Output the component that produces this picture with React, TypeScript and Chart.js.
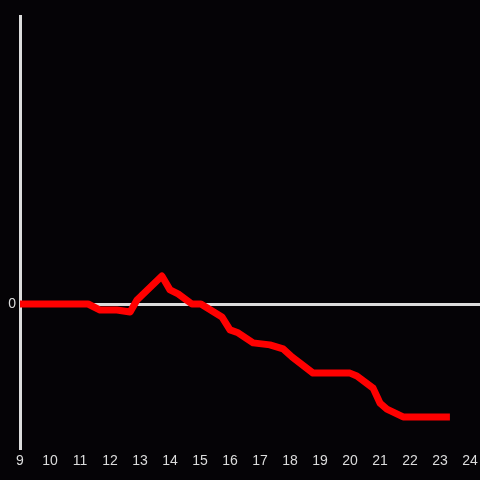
import React, { useEffect, useRef } from "react";
import { Chart, registerables } from "chart.js";

Chart.register(...registerables);

const hours = [9, 11.27, 11.67, 12.23, 12.67, 12.9, 13.73, 14.0, 14.27, 14.73, 15.03, 15.73, 16.0, 16.27, 16.77, 17.33, 17.77, 18.07, 18.77, 20.0, 20.23, 20.77, 21.0, 21.23, 21.77, 23.33];
const values = [0, 0, -0.21, -0.21, -0.28, 0.14, 0.97, 0.49, 0.35, 0, 0, -0.45, -0.9, -1.0, -1.35, -1.42, -1.56, -1.84, -2.4, -2.4, -2.5, -2.92, -3.44, -3.65, -3.92, -3.92];
const xTickLabels = [9, 10, 11, 12, 13, 14, 15, 16, 17, 18, 19, 20, 21, 22, 23, 24];
const yTickLabels = [0];

const BG = "#050306";
const FG = "#dcdcdc";

export default function App() {
  const ref = useRef<HTMLCanvasElement>(null);
  useEffect(() => {
    const canvas = ref.current!;
    const chart = new Chart(canvas, {
      type: "line",
      data: {
        datasets: [
          {
            data: hours.map((h, i) => ({ x: h, y: values[i] })),
            borderColor: "#ff0000",
            borderWidth: 7,
            pointRadius: 0,
            tension: 0,
            borderJoinStyle: "round",
            borderCapStyle: "butt",
          },
        ],
      },
      options: {
        responsive: false,
        animation: false,
        layout: { padding: { top: 16, left: 0, right: 0, bottom: 0 } },
        plugins: { legend: { display: false }, tooltip: { enabled: false } },
        scales: {
          x: {
            type: "linear",
            min: 9,
            max: 24 + 1 / 3,
            grid: { display: false, drawTicks: false },
            border: { display: false },
            afterBuildTicks: (s: any) => {
              s.ticks = xTickLabels.map((v) => ({ value: v }));
            },
            afterFit: (s: any) => {
              s.height = 32;
              s.paddingLeft = 0;
              s.paddingRight = 0;
            },
            ticks: {
              color: FG,
              padding: 5,
              maxRotation: 0,
              autoSkip: false,
              font: { family: "Liberation Sans", size: 14 },
              callback: (v: any) => String(v),
            },
          },
          y: {
            min: -5,
            max: 10,
            grid: {
              drawTicks: false,
              color: (c: any) => (c.tick && c.tick.value === 0 ? FG : "transparent"),
              lineWidth: 3,
            },
            border: { display: true, color: FG, width: 3 },
            afterBuildTicks: (s: any) => {
              s.ticks = yTickLabels.map((v) => ({ value: v }));
            },
            afterFit: (s: any) => {
              s.width = 20;
              s.paddingTop = 0;
              s.paddingBottom = 0;
            },
            ticks: {
              color: FG,
              padding: 4,
              font: { family: "Liberation Sans", size: 14 },
              callback: (v: any) => String(v),
            },
          },
        },
      },
    });
    return () => chart.destroy();
  }, []);
  return (
    <div style={{ position: "fixed", left: 0, top: 0, width: 480, height: 480, background: BG }}>
      <canvas ref={ref} width={480} height={480} style={{ display: "block" }} />
    </div>
  );
}
